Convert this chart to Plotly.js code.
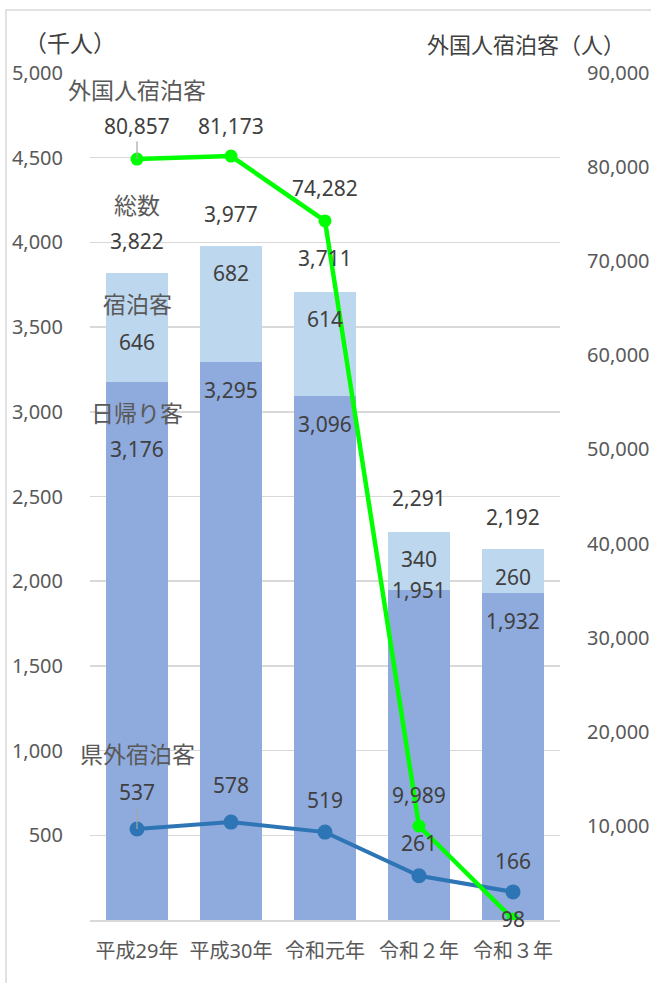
<!DOCTYPE html>
<html>
<head>
<meta charset="utf-8">
<script src="https://cdn.plot.ly/plotly-3.0.1.min.js"></script>
<style>
html,body{margin:0;padding:0;background:#fff;}
#chart{width:651px;height:983px;}
</style>
</head>
<body>
<div id="chart"></div>
<script>
// ---- data ----
const categories = ["平成29年", "平成30年", "令和元年", "令和２年", "令和３年"];
const dayTrip = [3176, 3295, 3096, 1951, 1932];      // 日帰り客 (千人)
const overnight = [646, 682, 614, 340, 260];         // 宿泊客 (千人)
const total = [3822, 3977, 3711, 2291, 2192];        // 総数 (千人)
const outOfPref = [537, 578, 519, 261, 166];         // 県外宿泊客 (千人)
const foreign = [80857, 81173, 74282, 9989, 98];     // 外国人宿泊客 (人)
const leftTicks = [500, 1000, 1500, 2000, 2500, 3000, 3500, 4000, 4500, 5000];
const rightTicks = [10000, 20000, 30000, 40000, 50000, 60000, 70000, 80000, 90000];

// ---- label offsets (pixels, styling only) ----
const totalShift = [32, 32, 33, 34, 32];
const overShift = [-69, -27, -28, -27, -28];
const dayShift = [-67, -28, -28, 0, -28];
const outShift = [37, 37, 32, 33, 31];
const forShift = [33, 30, 33, 31, 0];

const FONT = '"Noto Sans", "Noto Sans CJK JP", sans-serif';
const valColor = '#404040';
const VS = 21;
const NS = 23;
const fmt = v => v.toLocaleString('en-US');

const traces = [
  {type: 'bar', x: categories, y: dayTrip, name: '日帰り客',
   marker: {color: '#8faadc'}, hoverinfo: 'skip'},
  {type: 'bar', x: categories, y: overnight, name: '宿泊客',
   marker: {color: '#bdd7ee'}, hoverinfo: 'skip'},
  {type: 'scatter', mode: 'lines+markers', x: categories, y: outOfPref, name: '県外宿泊客',
   line: {color: '#2e75b6', width: 4}, marker: {color: '#2e75b6', size: 15}},
  {type: 'scatter', mode: 'lines+markers', x: categories, y: foreign, name: '外国人宿泊客',
   yaxis: 'y2', line: {color: '#00ff00', width: 4.5}, marker: {color: '#00ff00', size: 13}}
];

const ann = [];
function lab(x, y, text, shift, yref) {
  ann.push({x: x, y: y, xref: 'x', yref: yref || 'y', text: text,
    showarrow: false, yshift: shift, font: {family: FONT, size: VS, color: valColor}});
}
function leader(x, y, text, shift, yref) {
  ann.push({x: x, y: y, xref: 'x', yref: yref || 'y', text: text,
    showarrow: true, arrowhead: 0, ax: 0, ay: -shift, standoff: 0,
    arrowcolor: '#a6a6a6', arrowwidth: 1.2,
    font: {family: FONT, size: VS, color: valColor}});
}
categories.forEach((c, i) => {
  lab(c, total[i], fmt(total[i]), totalShift[i]);
  lab(c, total[i], fmt(overnight[i]), overShift[i]);
  lab(c, dayTrip[i], fmt(dayTrip[i]), dayShift[i]);
  if (i === 0) {
    leader(c, outOfPref[i], fmt(outOfPref[i]), outShift[i]);
    leader(c, foreign[i], fmt(foreign[i]), forShift[i], 'y2');
  } else {
    lab(c, outOfPref[i], fmt(outOfPref[i]), outShift[i]);
    lab(c, foreign[i], fmt(foreign[i]), forShift[i], 'y2');
  }
});
// series names
const nameFont = {family: FONT, size: NS, color: '#595959'};
ann.push({x: categories[0], y: foreign[0], xref: 'x', yref: 'y2', text: '外国人宿泊客', showarrow: false, yshift: 69, font: nameFont});
ann.push({x: categories[0], y: total[0], xref: 'x', yref: 'y', text: '総数', showarrow: false, yshift: 68, font: nameFont});
ann.push({x: categories[0], y: total[0], xref: 'x', yref: 'y', text: '宿泊客', showarrow: false, yshift: -31, font: nameFont});
ann.push({x: categories[0], y: dayTrip[0], xref: 'x', yref: 'y', text: '日帰り客', showarrow: false, yshift: -31, font: nameFont});
ann.push({x: categories[0], y: outOfPref[0], xref: 'x', yref: 'y', text: '県外宿泊客', showarrow: false, yshift: 75, font: nameFont});
// axis unit titles
ann.push({xref: 'paper', yref: 'paper', x: -0.043, y: 1.036, xanchor: 'center', yanchor: 'middle',
  text: '（千人）', showarrow: false, font: {family: FONT, size: 23, color: '#404040'}});
ann.push({xref: 'paper', yref: 'paper', x: 0.928, y: 1.034, xanchor: 'center', yanchor: 'middle',
  text: '外国人宿泊客（人）', showarrow: false, font: {family: FONT, size: 22, color: '#404040'}});

const tickFont = {family: FONT, size: 20, color: '#595959'};
const layout = {
  width: 651, height: 983,
  margin: {l: 90, r: 91, t: 73, b: 63},
  paper_bgcolor: '#ffffff', plot_bgcolor: '#ffffff',
  barmode: 'stack', bargap: 0.34,
  showlegend: false,
  font: {family: FONT, color: '#595959', size: 20},
  xaxis: {type: 'category', range: [-0.5, categories.length - 0.5], automargin: false,
    showgrid: false, zeroline: false, showline: true,
    linecolor: '#d9d9d9', linewidth: 1.5, ticks: 'outside', ticklen: 12, tickcolor: 'rgba(0,0,0,0)',
    tickfont: tickFont},
  yaxis: {range: [0, 5000], automargin: false, tickvals: leftTicks, ticktext: leftTicks.map(fmt),
    showgrid: true, gridcolor: '#d9d9d9', gridwidth: 1.5, zeroline: false, showline: false,
    ticks: 'outside', ticklen: 22, tickcolor: 'rgba(0,0,0,0)', tickfont: tickFont},
  yaxis2: {range: [0, 90000], automargin: false, overlaying: 'y', side: 'right', tickvals: rightTicks,
    ticktext: rightTicks.map(fmt), showgrid: false, zeroline: false, showline: false,
    ticks: 'outside', ticklen: 22, tickcolor: 'rgba(0,0,0,0)', tickfont: tickFont},
  annotations: ann,
  shapes: [{type: 'rect', xref: 'paper', yref: 'paper', x0: -0.1787, x1: 1.6, y0: -0.3, y1: 1.0744,
    line: {color: '#d9d9d9', width: 1.5}, fillcolor: 'rgba(0,0,0,0)', layer: 'below'}]
};

Plotly.newPlot('chart', traces, layout, {displayModeBar: false, staticPlot: true});
</script>
</body>
</html>
